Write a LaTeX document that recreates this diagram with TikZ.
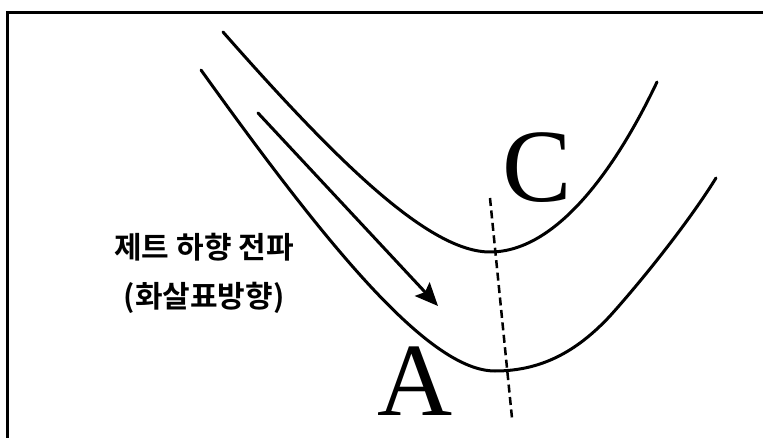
\documentclass[tikz,border=0pt]{standalone}
\usepackage{fontspec}
\setmainfont{Liberation Serif}
\newfontfamily\kofont{Noto Sans CJK KR}[BoldFont={Noto Sans CJK KR Bold}]
\usetikzlibrary{arrows.meta}
\tikzset{
  frameline/.style={line width=3pt,line join=miter},
  trough/.style={line width=3pt,line cap=round},
  jetarrow/.style={line width=3pt,line cap=round,-{Stealth[length=23pt,width=20pt,inset=4pt]}},
  axisline/.style={line width=2.5pt,dash pattern=on 8pt off 4.5pt},
  bigletter/.style={font=\fontsize{104}{104}\selectfont,inner sep=0pt},
  jetlabel/.style={font=\kofont\bfseries\fontsize{30}{49}\selectfont,align=center,inner sep=0pt}
}

\begin{document}
\begin{tikzpicture}[x=1pt,y=-1pt]
\useasboundingbox (0,0) rectangle (763,438);
% frame (only top and left edges visible)
\draw[frameline] (7.5,438) -- (7.5,13) -- (763,13);
% inner trough line (C)
\draw[trough] (223,32) .. controls (340,165) and (430,252) .. (490,252)
  .. controls (560,252) and (620,160) .. (657,82);
% outer trough line (A)
\draw[trough] (201,70) .. controls (330,250) and (430,371) .. (495,371)
  .. controls (545,371) and (580,348) .. (610,316)
  .. controls (645,277) and (690,220) .. (716,178);
% trough axis
\coordinate (axtop) at (490,198);
\coordinate (axbot) at (512,418);
\draw[axisline] (axtop) -- (axbot);
% jet
\coordinate (jetstart) at (258,113);
\coordinate (jetend) at (438,306);
\draw[jetarrow] (jetstart) -- (jetend);
% labels
\node[bigletter] (labC) at (537,168) {C};
\node[bigletter] (labA) at (415,381) {A};
\node[jetlabel] (jet) at (204,273) {제트 하향 전파\\(화살표방향)};
\end{tikzpicture}
\end{document}
